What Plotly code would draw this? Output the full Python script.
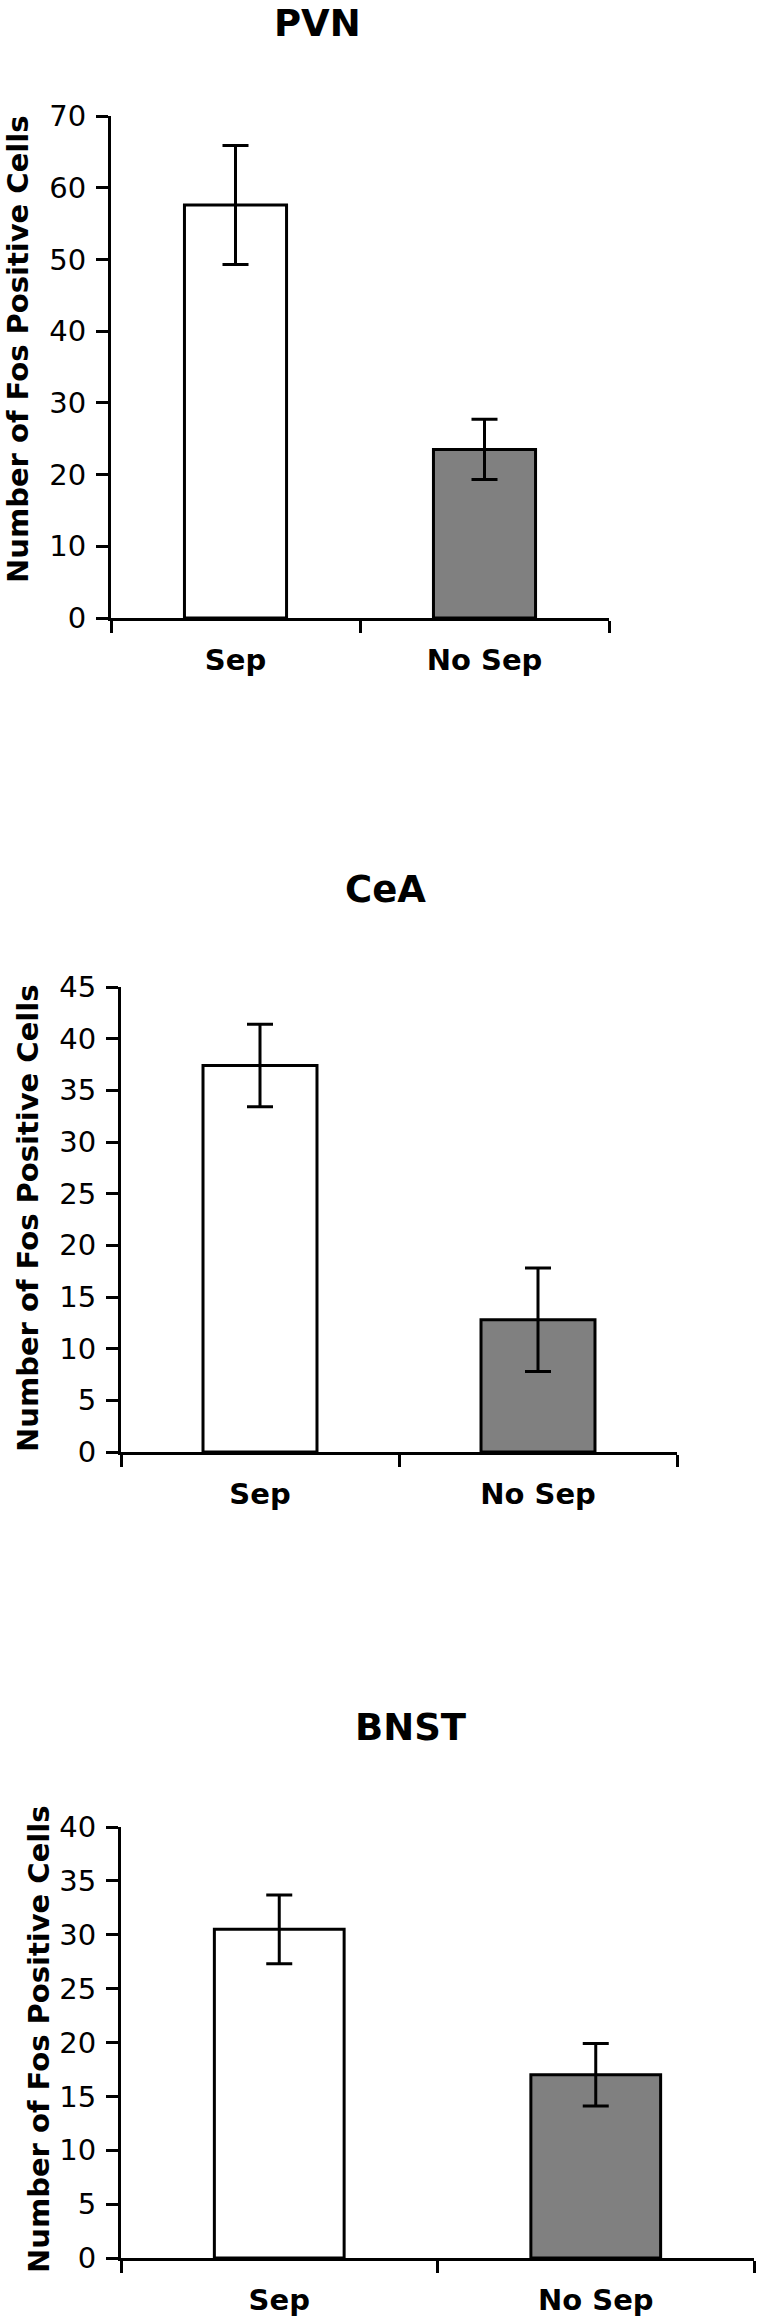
import plotly.graph_objects as go

W, H = 757, 2321

groups = ["Sep", "No Sep"]
regions = ["PVN", "CeA", "BNST"]

pvn_mean = [57.6, 23.5]
pvn_err = [8.3, 4.2]
cea_mean = [37.4, 12.8]
cea_err = [4.0, 5.0]
bnst_mean = [30.5, 17.0]
bnst_err = [3.2, 2.9]

y_max = [70, 45, 40]
y_step = [10, 5, 5]

bar_colors = ["white", "#808080"]
FONT = "Verdana, DejaVu Sans, sans-serif"

# panel boxes in pixels: (left, right, top, bottom)
boxes = [(111, 609, 116, 618), (121, 677, 987, 1452), (121, 754, 1827, 2258)]
# title: (x, y, yanchor)
title_pos = [(317, 0, "top"), (386, 889, "middle"), (411, 1727, "middle")]
ytitle_pos = [(18, 350), (28, 1219), (39, 2040)]

means = [pvn_mean, cea_mean, bnst_mean]
errs = [pvn_err, cea_err, bnst_err]


def px(x):
    return x / W


def py(y):
    return 1 - y / H


fig = go.Figure()
annotations = []

for i in range(3):
    n = "" if i == 0 else str(i + 1)
    fig.add_trace(go.Bar(
        x=groups, y=means[i],
        width=0.41,
        marker=dict(color=bar_colors, line=dict(color="black", width=3)),
        error_y=dict(type="data", array=errs[i], color="black", thickness=3, width=13),
        xaxis="x" + n, yaxis="y" + n,
        showlegend=False,
    ))
    l, r, t, b = boxes[i]
    fig.update_layout(**{
        "xaxis" + n: dict(
            domain=[px(l), px(r)], anchor="y" + n, range=[-0.5, 1.5],
            type="category", tickson="boundaries", automargin=False,
            showline=True, linecolor="black", linewidth=3,
            ticks="outside", ticklen=12, tickwidth=3, tickcolor="black",
            ticklabelstandoff=14,
            showgrid=False, zeroline=False,
            tickfont=dict(family=FONT, size=29, color="black", weight="bold"),
        ),
        "yaxis" + n: dict(
            domain=[py(b), py(t)], anchor="x" + n, range=[0, y_max[i]],
            dtick=y_step[i], tick0=0, automargin=False,
            showline=True, linecolor="black", linewidth=3,
            ticks="outside", ticklen=12, tickwidth=3, tickcolor="black",
            ticklabelstandoff=4,
            showgrid=False, zeroline=False,
            tickfont=dict(family=FONT, size=29, color="black"),
        ),
    })
    tx, ty, anc = title_pos[i]
    annotations.append(dict(
        text="<b>" + regions[i] + "</b>", x=px(tx), y=py(ty),
        xref="paper", yref="paper", xanchor="center", yanchor=anc,
        showarrow=False, font=dict(family=FONT, size=37, color="black"),
    ))
    ax, ay = ytitle_pos[i]
    annotations.append(dict(
        text="<b>Number of Fos Positive Cells</b>", x=px(ax), y=py(ay),
        xref="paper", yref="paper", xanchor="center", yanchor="middle",
        textangle=-90, showarrow=False,
        font=dict(family=FONT, size=29, color="black"),
    ))

fig.update_layout(
    width=W, height=H,
    margin=dict(l=0, r=0, t=0, b=0, autoexpand=False),
    paper_bgcolor="white", plot_bgcolor="white",
    annotations=annotations,
)

fig.write_html(
    "out.html",
    config={"displayModeBar": False},
    post_script="document.body.style.margin='0';document.body.style.overflow='hidden';",
)
